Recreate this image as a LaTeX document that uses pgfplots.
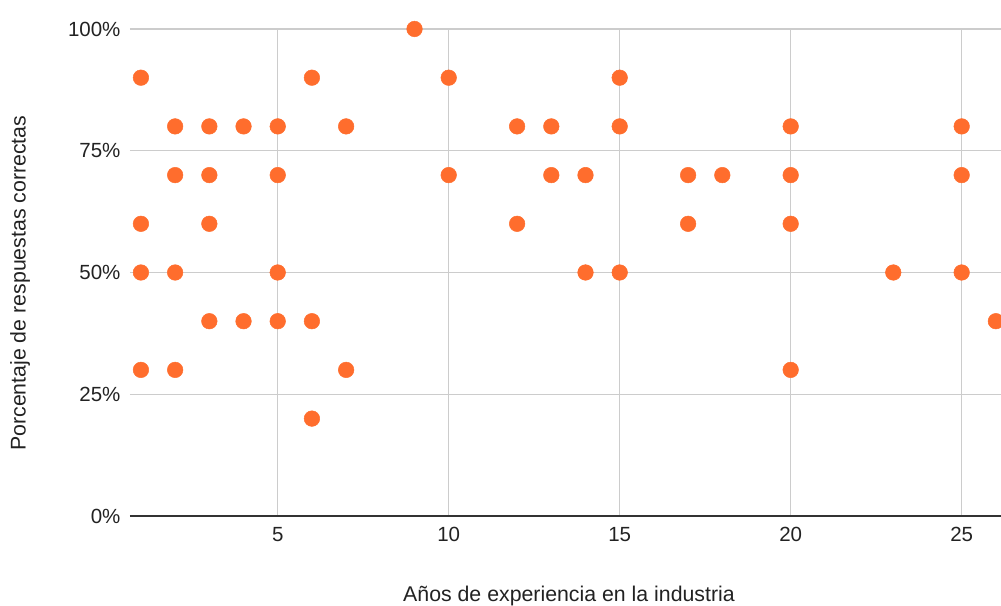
\documentclass[border=0pt]{standalone}
\usepackage{fontspec}
\setmainfont{Liberation Sans}
\usepackage{pgfplots}
\pgfplotsset{compat=1.18}
\definecolor{dotorange}{RGB}{255,109,45}
\definecolor{gridgray}{RGB}{204,204,204}
\definecolor{axisdark}{RGB}{51,51,51}
\definecolor{txt}{RGB}{34,34,34}
\begin{document}
\begin{tikzpicture}[x=1pt,y=1pt]
\path[use as bounding box] (0,0) rectangle (1001,605);
\begin{axis}[
  at={(130pt,89pt)}, anchor=south west,
  scale only axis, width=871pt, height=487pt,
  xmin=0.68, xmax=26.15, ymin=0, ymax=100,
  axis x line*=bottom, axis y line*=left,
  x axis line style={draw=axisdark, line width=1.4pt, -},
  y axis line style={draw=none},
  major tick length=0pt,
  xtick={5,10,15,20,25}, xticklabels={5,10,15,20,25},
  ytick={0,25,50,75,100}, yticklabels={0\%,25\%,50\%,75\%,100\%},
  grid=major,
  major grid style={draw=gridgray, line width=1.3pt},
  tick label style={font=\fontsize{20.5}{23}\selectfont, text=txt},
  xticklabel style={yshift=-8pt},
  yticklabel style={xshift=-6pt},
  xlabel={Años de experiencia en la industria},
  ylabel={Porcentaje de respuestas correctas},
  label style={font=\fontsize{21.3}{24}\selectfont, text=txt},
  xlabel style={at={(axis description cs:0.504,-0.164)}, anchor=center},
  ylabel style={at={(axis description cs:-0.1263,0.478)}, anchor=center, rotate=0},
  clip=false,
]
\addplot[only marks, color=dotorange, mark=*, mark size=7.8pt,
  mark options={fill=dotorange, draw=dotorange, line width=0.5pt}]
coordinates {
  (1,90) (1,60) (1,50) (1,30)
  (2,80) (2,70) (2,50) (2,30)
  (3,80) (3,70) (3,60) (3,40)
  (4,80) (4,40)
  (5,80) (5,70) (5,50) (5,40)
  (6,90) (6,40) (6,20)
  (7,80) (7,30)
  (9,100)
  (10,90) (10,70)
  (12,80) (12,60)
  (13,80) (13,70)
  (14,70) (14,50)
  (15,90) (15,80) (15,50)
  (17,70) (17,60)
  (18,70)
  (20,80) (20,70) (20,60) (20,30)
  (23,50)
  (25,80) (25,70) (25,50)
  (26,40)
};
\end{axis}
\end{tikzpicture}
\end{document}
